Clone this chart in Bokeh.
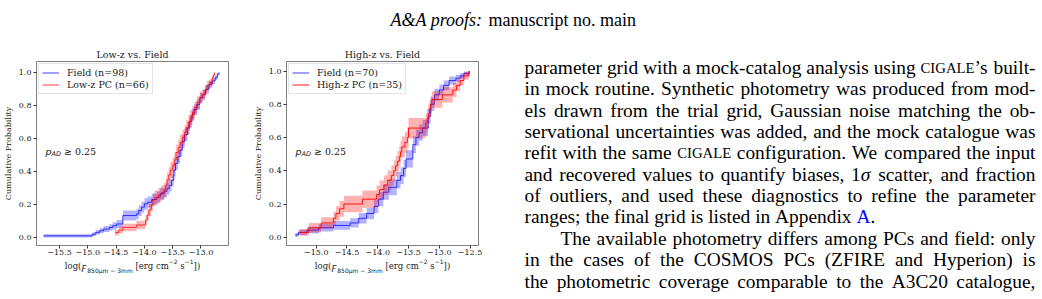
import re
from bokeh.plotting import figure
from bokeh.models import (Range1d, Label, Legend, LegendItem, CustomJSTickFormatter, FixedTicker,
                          LinearAxis)
from bokeh.layouts import column, row
from bokeh.core.properties import value
from bokeh.embed import file_html
from bokeh.resources import INLINE

# ---------------- data ----------------
lz_field_x = [-15.78, -14.92, -14.86, -14.79, -14.72, -14.62, -14.56, -14.49, -14.38, -14.14,
              -14.10, -14.05, -14.00, -13.94, -13.87, -13.78, -13.72, -13.65, -13.60, -13.56,
              -13.52, -13.48, -13.45, -13.41, -13.37, -13.33, -13.29, -13.24, -13.20, -13.16,
              -13.12, -13.07, -13.02, -12.97, -12.92, -12.86, -12.80, -12.75, -12.71, -12.68]
lz_field_y = [0.010, 0.020, 0.031, 0.041, 0.051, 0.061, 0.071, 0.082, 0.133, 0.143,
              0.163, 0.184, 0.204, 0.214, 0.230, 0.245, 0.265, 0.280, 0.296, 0.316,
              0.347, 0.408, 0.449, 0.490, 0.530, 0.582, 0.622, 0.663, 0.704, 0.745,
              0.776, 0.806, 0.847, 0.867, 0.898, 0.929, 0.949, 0.969, 0.990, 1.000]
lz_field_err = [0.010, 0.012, 0.014, 0.016, 0.018, 0.020, 0.022, 0.024, 0.030, 0.031,
                0.032, 0.033, 0.034, 0.034, 0.035, 0.035, 0.036, 0.036, 0.037, 0.037,
                0.038, 0.039, 0.040, 0.040, 0.040, 0.040, 0.039, 0.038, 0.037, 0.036,
                0.034, 0.032, 0.030, 0.028, 0.025, 0.022, 0.018, 0.014, 0.008, 0.000]

lz_pc_x = [-14.52, -14.45, -14.38, -14.14, -13.98, -13.95, -13.92, -13.88, -13.85, -13.82,
           -13.75, -13.70, -13.65, -13.62, -13.60, -13.57, -13.54, -13.50, -13.47, -13.44,
           -13.40, -13.37, -13.33, -13.29, -13.26, -13.22, -13.19, -13.15, -13.11, -13.07,
           -13.02, -12.98, -12.93, -12.89, -12.84, -12.80, -12.78, -12.76]
lz_pc_y = [0.030, 0.045, 0.061, 0.076, 0.106, 0.136, 0.167, 0.197, 0.227, 0.242,
           0.258, 0.273, 0.288, 0.318, 0.348, 0.379, 0.409, 0.439, 0.470, 0.515,
           0.545, 0.576, 0.606, 0.636, 0.667, 0.697, 0.727, 0.758, 0.788, 0.818,
           0.848, 0.864, 0.894, 0.924, 0.939, 0.970, 0.985, 1.000]
lz_pc_err = [0.018, 0.020, 0.023, 0.025, 0.030, 0.033, 0.036, 0.038, 0.040, 0.041,
             0.042, 0.043, 0.044, 0.045, 0.046, 0.047, 0.048, 0.048, 0.049, 0.049,
             0.049, 0.049, 0.048, 0.047, 0.046, 0.045, 0.044, 0.042, 0.040, 0.038,
             0.035, 0.033, 0.030, 0.026, 0.023, 0.016, 0.010, 0.000]

hz_field_x = [-15.34, -15.29, -15.15, -14.96, -14.72, -14.45, -14.31, -14.18, -14.06, -13.99,
              -13.91, -13.82, -13.69, -13.63, -13.58, -13.54, -13.43, -13.38, -13.33, -13.27,
              -13.18, -13.14, -13.08, -13.00, -12.93, -12.84, -12.73, -12.66, -12.60, -12.51]
hz_field_y = [0.014, 0.029, 0.043, 0.057, 0.071, 0.086, 0.114, 0.143, 0.186, 0.229,
              0.271, 0.300, 0.343, 0.371, 0.414, 0.471, 0.557, 0.600, 0.629, 0.657,
              0.729, 0.800, 0.857, 0.886, 0.914, 0.943, 0.957, 0.971, 0.986, 1.000]
hz_field_err = [0.012, 0.016, 0.020, 0.023, 0.026, 0.028, 0.032, 0.035, 0.040, 0.043,
                0.046, 0.047, 0.049, 0.050, 0.051, 0.052, 0.051, 0.050, 0.049, 0.048,
                0.046, 0.041, 0.036, 0.033, 0.029, 0.024, 0.021, 0.017, 0.012, 0.000]

hz_pc_x = [-15.27, -15.12, -14.92, -14.72, -14.68, -14.62, -14.55, -14.25, -14.02, -13.97,
           -13.90, -13.84, -13.78, -13.74, -13.71, -13.68, -13.65, -13.63, -13.61, -13.56,
           -13.52, -13.50, -13.22, -13.20, -13.18, -13.16, -13.14, -13.12, -12.95, -12.78,
           -12.72, -12.66, -12.60, -12.52]
hz_pc_y = [0.029, 0.057, 0.086, 0.114, 0.143, 0.171, 0.200, 0.229, 0.257, 0.286,
           0.314, 0.343, 0.371, 0.400, 0.429, 0.457, 0.486, 0.514, 0.543, 0.571,
           0.600, 0.657, 0.686, 0.714, 0.743, 0.771, 0.800, 0.829, 0.857, 0.886,
           0.914, 0.943, 0.971, 1.000]
hz_pc_err = [0.020, 0.028, 0.034, 0.040, 0.044, 0.047, 0.050, 0.052, 0.054, 0.056,
             0.058, 0.059, 0.060, 0.061, 0.062, 0.062, 0.063, 0.063, 0.063, 0.063,
             0.062, 0.061, 0.060, 0.058, 0.056, 0.054, 0.052, 0.050, 0.046, 0.042,
             0.036, 0.030, 0.022, 0.000]

x_ticks_low = [-15.5, -15.0, -14.5, -14.0, -13.5, -13.0]
x_ticks_high = [-15.0, -14.5, -14.0, -13.5, -13.0, -12.5]
y_ticks = [0.0, 0.2, 0.4, 0.6, 0.8, 1.0]

titles = ["Low-z vs. Field", "High-z vs. Field"]
legend_low = ["Field (n=98)", "Low-z PC (n=66)"]
legend_high = ["Field (n=70)", "High-z PC (n=35)"]
y_label = "Cumulative Probability"

header_italic = "A&A proofs:"
header_roman = "manuscript no. main"

body_lines = [
    "parameter grid with a mock-catalog analysis using <sc>cigale</sc>\u2019s built-",
    "in mock routine. Synthetic photometry was produced from mod-",
    "els drawn from the trial grid, Gaussian noise matching the ob-",
    "servational uncertainties was added, and the mock catalogue was",
    "refit with the same <sc>cigale</sc> configuration. We compared the input",
    "and recovered values to quantify biases, 1<i>\u03c3</i> scatter, and fraction",
    "of outliers, and used these diagnostics to refine the parameter",
    "ranges; the final grid is listed in Appendix <a>A</a>.",
    "The available photometry differs among PCs and field: only",
    "in the cases of the COSMOS PCs (ZFIRE and Hyperion) is",
    "the photometric coverage comparable to the A3C20 catalogue,",
]
body_justify = [True, True, True, True, True, True, True, False, True, True, True]
body_indent = [0, 0, 0, 0, 0, 0, 0, 0, 1, 0, 0]

# ---------------- styling constants ----------------
BLUE = "#0000ff"
RED = "#ff0000"
TXT = "#1a1a1a"
SERIF = "DejaVu Serif"
SANS = "DejaVu Sans"

# approximate DejaVu advance widths (em)
DJ_SERIF = {'l': .320, 'o': .602, 'g': .640, '(': .390, ')': .390, '[': .390, ']': .390, ' ': .318,
            'e': .592, 'r': .478, 'c': .560, 'm': .948, 's': .513, '.': .318}
DJ_SANS = {'m': .974, '\u2212': .838, ' ': .318, 'F': .575, 'p': .635, 'A': .684, 'D': .770,
           '\u2265': .838, '\u03bc': .636, '.': .318}
for d in "0123456789":
    DJ_SANS[d] = .636
    DJ_SERIF[d] = .636


def dj_width(text, font, size):
    table = DJ_SERIF if font == SERIF else DJ_SANS
    return sum(table.get(c, 0.6) for c in text) * size


def text_axis(p, centers, texts, font, style, size, standoff):
    order = sorted(range(len(centers)), key=lambda i: centers[i])
    ax = LinearAxis(ticker=FixedTicker(ticks=[centers[i] for i in order]),
                    formatter=CustomJSTickFormatter(args=dict(labels=[texts[i] for i in order]),
                                                    code="return labels[index];"))
    ax.axis_line_color = None
    ax.major_tick_line_color = None
    ax.minor_tick_line_color = None
    ax.major_tick_out = 0
    ax.major_tick_in = 0
    ax.major_label_text_font = font
    ax.major_label_text_font_style = style
    ax.major_label_text_font_size = f"{size}px"
    ax.major_label_text_color = TXT
    ax.major_label_standoff = standoff
    p.add_layout(ax, "below")


def make_panel(title, xr, yr, borders, xticks, series, labels, frame_px, pad_px, xlabel_cx):
    left, right, top, bottom = borders
    width = left + right + 192
    p = figure(width=width, height=259, x_range=Range1d(*xr), y_range=Range1d(*yr),
               output_backend="svg", toolbar_location=None, title=title,
               min_border_left=left, min_border_right=right,
               min_border_top=top, min_border_bottom=bottom)
    p.grid.visible = False
    p.outline_line_color = "#808080"
    p.outline_line_width = 1
    p.title.text_font = SERIF
    p.title.text_font_size = "9.5px"
    p.title.text_font_style = "normal"
    p.title.text_color = TXT
    p.title.align = "center"
    p.title.standoff = 3

    fmt = CustomJSTickFormatter(code="return tick.toFixed(1).replace('-', '\u2212');")
    for ax, ticks in ((p.xaxis[0], xticks), (p.yaxis[0], y_ticks)):
        ax.ticker = FixedTicker(ticks=ticks)
        ax.formatter = fmt
        ax.axis_line_color = None
        ax.major_tick_line_color = "#333333"
        ax.major_tick_out = 3
        ax.major_tick_in = 0
        ax.minor_tick_line_color = None
        ax.major_label_text_font = SERIF
        ax.major_label_text_font_size = "8px"
        ax.major_label_text_color = TXT
    p.xaxis.major_label_standoff = 1
    p.yaxis.major_label_standoff = 2
    p.yaxis.axis_label = y_label
    p.yaxis.axis_label_text_font = SERIF
    p.yaxis.axis_label_text_font_size = "8px"
    p.yaxis.axis_label_text_font_style = "normal"
    p.yaxis.axis_label_text_color = TXT
    p.yaxis.axis_label_standoff = 3

    items = []
    for (sx, sy, se, col, la), lab in zip(series, labels):
        lo = [a - b for a, b in zip(sy, se)]
        hi = [a + b for a, b in zip(sy, se)]
        p.varea_step(x=sx, y1=lo, y2=hi, step_mode="after", fill_color=col, fill_alpha=0.3)
        r = p.step(x=sx, y=sy, mode="after", line_color=col, line_alpha=la, line_width=1)
        items.append(LegendItem(label=lab, renderers=[r]))
    leg = Legend(items=items, location="top_left")
    leg.label_text_font = SERIF
    leg.label_text_font_size = "9.5px"
    leg.label_text_color = TXT
    leg.glyph_width = 17
    leg.glyph_height = 11
    leg.label_height = 11
    leg.label_standoff = 8
    leg.spacing = 1
    leg.padding = 3
    leg.margin = 2
    leg.border_line_color = "#cccccc"
    leg.background_fill_alpha = 0.8
    p.add_layout(leg)

    fx0, fy0 = frame_px
    sxp = 192 / (xr[1] - xr[0])
    syp = 184 / (yr[1] - yr[0])

    def to_data(px, py):
        return xr[0] + (px - fx0) / sxp, yr[1] - (py - fy0) / syp

    # p_AD annotation (inside the frame)
    pieces = [("p", SANS, "italic", 9.5, 0, 0.0), ("AD", SANS, "italic", 6.5, -2.2, 0.0),
              ("\u2265", SANS, "normal", 9.5, 0, 3.0), ("0.25", SERIF, "normal", 9.5, 0, 3.0)]
    x = pad_px[0]
    for t, f, st, s, rise, gap in pieces:
        x += gap
        dx, dy = to_data(x, pad_px[1] - rise)
        p.add_layout(Label(x=dx, y=dy, text=t, text_font=f, text_font_style=st,
                           text_font_size=f"{s}px", text_color=TXT,
                           text_baseline="alphabetic", text_align="left"))
        x += dj_width(t, f, s)

    # x-axis label built from pieces set on extra (tick-less) axes below the plot
    MS, SS = 8.5, 6.0
    parts = [("log(", SERIF, "normal", MS, "main"), ("F", SANS, "italic", MS, "F"),
             ("850\u03bcm \u2212 3mm", SANS, "normal", SS, "sub"), (" [erg cm", SERIF, "normal", MS, "main"),
             ("\u22122", SANS, "normal", SS, "sup"), (" s", SERIF, "normal", MS, "main"),
             ("\u22121", SANS, "normal", SS, "sup"), ("])", SERIF, "normal", MS, "main")]
    total = sum(dj_width(t, f, s) for t, f, st, s, k in parts) + 1.0
    x = xlabel_cx - total / 2
    rows = {"main": [], "F": [], "sub": [], "sup": []}
    for t, f, st, s, k in parts:
        w = dj_width(t, f, s)
        lead = dj_width(t[:len(t) - len(t.lstrip())], f, s)
        ink = t.strip()
        cx = x + lead + dj_width(ink, f, s) / 2
        rows[k].append((to_data(cx, 0)[0], ink))
        x += w + (1.0 if k == "F" else 0.0)
    text_axis(p, [c for c, t in rows["sup"]], [t for c, t in rows["sup"]], SANS, "normal", SS, 1)
    text_axis(p, [c for c, t in rows["main"]], [t for c, t in rows["main"]], SERIF, "normal", MS, -6)
    text_axis(p, [c for c, t in rows["F"]], [t for c, t in rows["F"]], SANS, "italic", MS, -10)
    text_axis(p, [c for c, t in rows["sub"]], [t for c, t in rows["sub"]], SANS, "normal", SS, -10)
    return p


p1 = make_panel(titles[0], (-15.906, -12.514), (-0.0485, 1.0667), (36, 22, 21, 54), x_ticks_low,
                [(lz_field_x, lz_field_y, lz_field_err, BLUE, 0.75),
                 (lz_pc_x, lz_pc_y, lz_pc_err, RED, 0.75)], legend_low,
                (36, 61), (45, 151), 132)
p2 = make_panel(titles[1], (-15.483, -12.363), (-0.0497, 1.0576), (36, 32, 21, 54), x_ticks_high,
                [(hz_field_x, hz_field_y, hz_field_err, BLUE, 0.75),
                 (hz_pc_x, hz_pc_y, hz_pc_err, RED, 0.9)], legend_high,
                (286, 61), (295, 151), 382)

# ---------------- page text ----------------
FS = 19.4
HFS = 18.0
SC = 0.76
TR = {}
for chars, widths in [
    ("abcdefghijklmnopqrstuvwxyz", [444, 500, 444, 500, 444, 333, 500, 500, 278, 278, 500, 278, 778,
                                    500, 500, 500, 500, 333, 389, 278, 500, 500, 722, 500, 500, 444]),
    ("ABCDEFGHIJKLMNOPQRSTUVWXYZ", [722, 667, 667, 722, 611, 556, 722, 722, 333, 389, 722, 611, 889,
                                    722, 722, 556, 722, 667, 556, 611, 722, 722, 944, 722, 722, 611]),
    ("0123456789", [500] * 10),
    (" ,.;:-()\u2019&", [250, 250, 250, 278, 278, 333, 333, 333, 333, 778]),
]:
    for c, w in zip(chars, widths):
        TR[c] = w / 1000
TI = dict(TR)
TI.update({'A': .611, ':': .333, 'r': .389, '\u03c3': .55})


def seg_width(text, kind):
    if kind == "sc":
        return sum(TR.get(c, .5) for c in text.upper()) * FS * SC
    table = TI if kind == "i" else TR
    return sum(table.get(c, .5) for c in text) * FS


def parse_word(word):
    segs = []
    for m in re.finditer(r"<(sc|i|a)>(.*?)</\1>|([^<]+)", word):
        if m.group(3):
            segs.append((m.group(3), "r"))
        else:
            segs.append((m.group(2), m.group(1)))
    return segs


groups = {}


def put(x, y, text, kind):
    g = groups.setdefault(kind, ([], [], []))
    g[0].append(x)
    g[1].append(y)
    g[2].append(text.upper() if kind == "sc" else text)


LEFT, RIGHT, INDENT = 524.0, 1035.0, 36.0
BASE0, PITCH = 67.0, 21.35
for i, line in enumerate(body_lines):
    words = [parse_word(w) for w in line.split(" ")]
    widths = [sum(seg_width(t, k) for t, k in w) for w in words]
    x0 = LEFT + INDENT * body_indent[i]
    if body_justify[i] and len(words) > 1:
        gap = (RIGHT - x0 - sum(widths)) / (len(words) - 1)
    else:
        gap = TR[' '] * FS
    y = BASE0 + PITCH * i
    x = x0
    for w, ww in zip(words, widths):
        xx = x
        for t, k in w:
            put(xx, y, t, k)
            xx += seg_width(t, k)
        x += ww + gap

tf = figure(width=532, height=259, x_range=Range1d(510, 1042), y_range=Range1d(299, 40),
            x_axis_type=None, y_axis_type=None, output_backend="svg", toolbar_location=None,
            min_border=0, outline_line_color=None)
styles = {"r": ("normal", FS, "black"), "sc": ("normal", FS * SC, "black"),
          "i": ("italic", FS, "black"), "a": ("normal", FS, "#0000ff")}
for k, (xs, ys, ts) in groups.items():
    st, size, colr = styles[k]
    tf.text(x=xs, y=ys, text=ts, text_font=value("Liberation Serif"), text_font_style=st,
            text_font_size=value(f"{size:.2f}px"), text_color=colr, text_baseline="alphabetic",
            text_align="left")

hf = figure(width=1042, height=40, x_range=Range1d(0, 1042), y_range=Range1d(40, 0),
            x_axis_type=None, y_axis_type=None, output_backend="svg", toolbar_location=None,
            min_border=0, outline_line_color=None)
HX, HY = 390.0, 19.0
hw = sum(TI.get(c, .5) for c in header_italic + " ") * HFS
hf.text(x=[HX], y=[HY], text=[header_italic], text_font=value("Liberation Serif"),
        text_font_style="italic", text_font_size=value(f"{HFS}px"), text_color="black",
        text_baseline="alphabetic", text_align="left")
hf.text(x=[HX + hw], y=[HY], text=[header_roman], text_font=value("Liberation Serif"),
        text_font_style="normal", text_font_size=value(f"{HFS}px"), text_color="black",
        text_baseline="alphabetic", text_align="left")

layout = column(hf, row(column(p1), column(p2), column(tf)))
open("out.html", "w").write(file_html(layout, INLINE))
